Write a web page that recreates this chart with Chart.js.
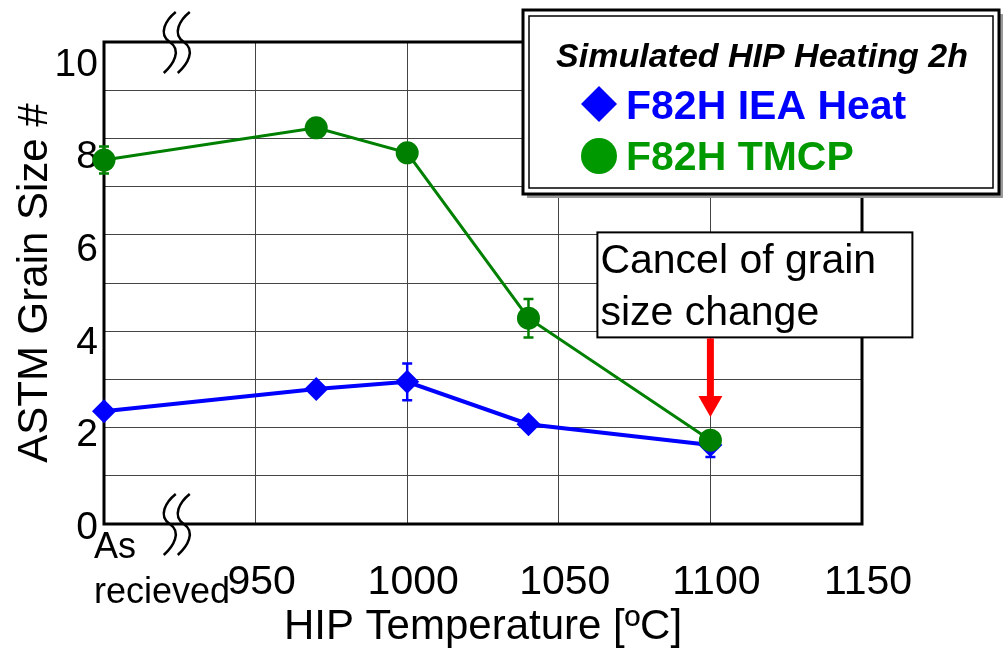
<!DOCTYPE html>
<html>
<head>
<meta charset="utf-8">
<title>ASTM grain size vs HIP temperature</title>
<script src="https://cdn.jsdelivr.net/npm/chart.js@4.4.1/dist/chart.umd.min.js"></script>
<style>
  html, body { margin: 0; padding: 0; background: #fff; }
</style>
</head>
<body>
<canvas id="grain" width="1006" height="659"></canvas>
<script>
// HIP temperature, 900 stands for the "As recieved" state
const temps = [900, 970, 1000, 1040, 1100];
const ieaHeat = [2.34, 2.80, 2.95, 2.07, 1.64];
const ieaHeatErr = [0, 0, 0.38, 0, 0.25];
const tmcp = [7.55, 8.22, 7.70, 4.27, 1.74];
const tmcpErr = [0.28, 0, 0, 0.4, 0.12];

const xTicks = [900, 950, 1000, 1050, 1100, 1150];
const xTickLabels = ['', '950', '1000', '1050', '1100', '1150'];
const asReceivedLabel = ['As', 'recieved'];
const yTicks = [0, 2, 4, 6, 8, 10];

const FONT = "'Liberation Sans', Arial, sans-serif";
const BLUE = '#0000ff';
const GREEN = '#008000';

function points(vals) {
    return temps.map((t, i) => ({x: t, y: vals[i]}));
}

function breakMark(ctx, cx, cy) {
    ctx.lineWidth = 2.5;
    ctx.strokeStyle = '#000';
    [-7, 7].forEach(dx => {
        const xc = cx + dx;
        ctx.beginPath();
        ctx.moveTo(xc + 6, cy - 30);
        ctx.bezierCurveTo(xc - 4, cy - 22, xc - 12, cy - 8, xc, cy);
        ctx.bezierCurveTo(xc + 12, cy + 8, xc + 4, cy + 22, xc - 6, cy + 31);
        ctx.stroke();
    });
}

function drawLegend(ctx) {
    ctx.fillStyle = '#999';
    ctx.fillRect(527, 14, 476, 184);
    ctx.fillStyle = '#fff';
    ctx.fillRect(523, 10, 476, 184);
    ctx.strokeStyle = '#000';
    ctx.lineWidth = 3;
    ctx.strokeRect(523, 10, 476, 184);
    ctx.lineWidth = 1.5;
    ctx.strokeRect(529, 16, 464, 172);

    ctx.fillStyle = '#000';
    ctx.textAlign = 'center';
    ctx.textBaseline = 'alphabetic';
    ctx.font = 'italic bold 34px ' + FONT;
    ctx.fillText('Simulated HIP Heating 2h', 762, 67);

    ctx.textAlign = 'left';
    ctx.font = 'bold 41px ' + FONT;
    // diamond
    ctx.fillStyle = BLUE;
    ctx.beginPath();
    ctx.moveTo(581, 104); ctx.lineTo(599, 86); ctx.lineTo(617, 104); ctx.lineTo(599, 122);
    ctx.closePath();
    ctx.fill();
    ctx.fillText('F82H IEA Heat', 626, 119);
    // circle
    ctx.fillStyle = '#009a00';
    ctx.beginPath();
    ctx.arc(599, 156, 18, 0, Math.PI * 2);
    ctx.fill();
    ctx.fillText('F82H TMCP', 626, 170);
}

const decor = {
    id: 'decor',
    beforeDatasetsDraw(chart) {
        const {ctx, chartArea: a, scales: {x, y}} = chart;
        ctx.save();
        ctx.strokeStyle = '#000';
        ctx.lineWidth = 3;
        ctx.strokeRect(a.left, a.top, a.right - a.left, a.bottom - a.top);

        // error bars
        chart.data.datasets.forEach(ds => {
            ctx.strokeStyle = ds.borderColor;
            ctx.lineWidth = 2.5;
            ds.data.forEach((p, i) => {
                const e = ds.err[i];
                if (!e) return;
                const px = x.getPixelForValue(p.x);
                const y1 = y.getPixelForValue(p.y + e);
                const y2 = y.getPixelForValue(p.y - e);
                ctx.beginPath();
                ctx.moveTo(px, y1); ctx.lineTo(px, y2);
                ctx.moveTo(px - 5, y1); ctx.lineTo(px + 5, y1);
                ctx.moveTo(px - 5, y2); ctx.lineTo(px + 5, y2);
                ctx.stroke();
            });
        });
        ctx.restore();
    },
    afterDraw(chart) {
        const {ctx, chartArea: a, scales: {x, y}} = chart;
        ctx.save();

        // axis break marks
        const bx = x.getPixelForValue(924);
        breakMark(ctx, bx, a.top);
        breakMark(ctx, bx, a.bottom);

        // "As recieved" tick label
        ctx.fillStyle = '#000';
        ctx.textAlign = 'left';
        ctx.textBaseline = 'alphabetic';
        ctx.font = '36px ' + FONT;
        const lx = x.getPixelForValue(900) - 10;
        ctx.fillText(asReceivedLabel[0], lx, a.bottom + 34);
        ctx.fillText(asReceivedLabel[1], lx, a.bottom + 79);

        // annotation box + arrow
        const ax = x.getPixelForValue(1100);
        const boxTop = y.getPixelForValue(6.05);
        const boxLeft = ax - 113;
        const boxW = 315, boxH = 105;
        ctx.fillStyle = '#fff';
        ctx.fillRect(boxLeft, boxTop, boxW, boxH);
        ctx.strokeStyle = '#000';
        ctx.lineWidth = 2;
        ctx.strokeRect(boxLeft, boxTop, boxW, boxH);
        ctx.fillStyle = '#000';
        ctx.font = '41px ' + FONT;
        ctx.fillText('Cancel of grain', boxLeft + 3, boxTop + 41);
        ctx.fillText('size change', boxLeft + 3, boxTop + 93);

        const tipY = y.getPixelForValue(2.22);
        const shaftEnd = tipY - 21;
        ctx.fillStyle = '#ff0000';
        ctx.fillRect(ax - 3.5, boxTop + boxH + 1, 7, shaftEnd - (boxTop + boxH + 1));
        ctx.beginPath();
        ctx.moveTo(ax - 12, shaftEnd);
        ctx.lineTo(ax + 12, shaftEnd);
        ctx.lineTo(ax, tipY);
        ctx.closePath();
        ctx.fill();

        drawLegend(ctx);
        ctx.restore();
    }
};

const ctx = document.getElementById('grain').getContext('2d');

new Chart(ctx, {
    type: 'line',
    data: {
        datasets: [
            {
                label: 'F82H IEA Heat',
                data: points(ieaHeat),
                err: ieaHeatErr,
                borderColor: BLUE,
                backgroundColor: BLUE,
                borderWidth: 4,
                pointStyle: 'rectRot',
                pointRadius: 12,
                pointBorderWidth: 0,
                tension: 0,
                clip: false,
                order: 1
            },
            {
                label: 'F82H TMCP',
                data: points(tmcp),
                err: tmcpErr,
                borderColor: GREEN,
                backgroundColor: GREEN,
                borderWidth: 3,
                pointStyle: 'circle',
                pointRadius: 11.5,
                pointBorderWidth: 0,
                tension: 0,
                clip: false,
                order: 0
            }
        ]
    },
    options: {
        responsive: false,
        animation: false,
        devicePixelRatio: 1,
        events: [],
        layout: {padding: {top: 42, right: 144, left: 0, bottom: 0}},
        plugins: {
            legend: {display: false},
            tooltip: {enabled: false}
        },
        scales: {
            x: {
                type: 'linear',
                min: 900,
                max: 1150,
                afterBuildTicks: s => { s.ticks = xTicks.map(v => ({value: v})); },
                afterFit: s => { s.height = 135; },
                ticks: {
                    callback: v => xTickLabels[xTicks.indexOf(v)],
                    font: {family: FONT, size: 41},
                    color: '#000',
                    padding: 34,
                    labelOffset: 6,
                    autoSkip: false,
                    maxRotation: 0
                },
                grid: {color: '#444', lineWidth: 1, drawTicks: false},
                border: {display: false},
                title: {
                    display: true,
                    text: 'HIP Temperature [ºC]',
                    font: {family: FONT, size: 42},
                    color: '#000',
                    padding: {top: 0, bottom: 6}
                }
            },
            y: {
                min: 0,
                max: 10,
                afterFit: s => { s.width = 0; },
                ticks: {stepSize: 1, display: false},
                grid: {color: '#444', lineWidth: 1, drawTicks: false},
                border: {display: false}
            },
            yLab: {
                position: 'left',
                min: 0.086,
                max: 10.5,
                afterBuildTicks: s => { s.ticks = yTicks.map(v => ({value: v})); },
                afterFit: s => { s.width = 104; },
                ticks: {
                    callback: v => String(v),
                    font: {family: FONT, size: 39},
                    color: '#000',
                    padding: 6
                },
                grid: {display: false, drawTicks: false},
                border: {display: false},
                title: {
                    display: true,
                    text: 'ASTM Grain Size #',
                    font: {family: FONT, size: 42},
                    color: '#000',
                    padding: {top: 10, bottom: 0}
                }
            }
        }
    },
    plugins: [decor]
});
</script>
</body>
</html>
